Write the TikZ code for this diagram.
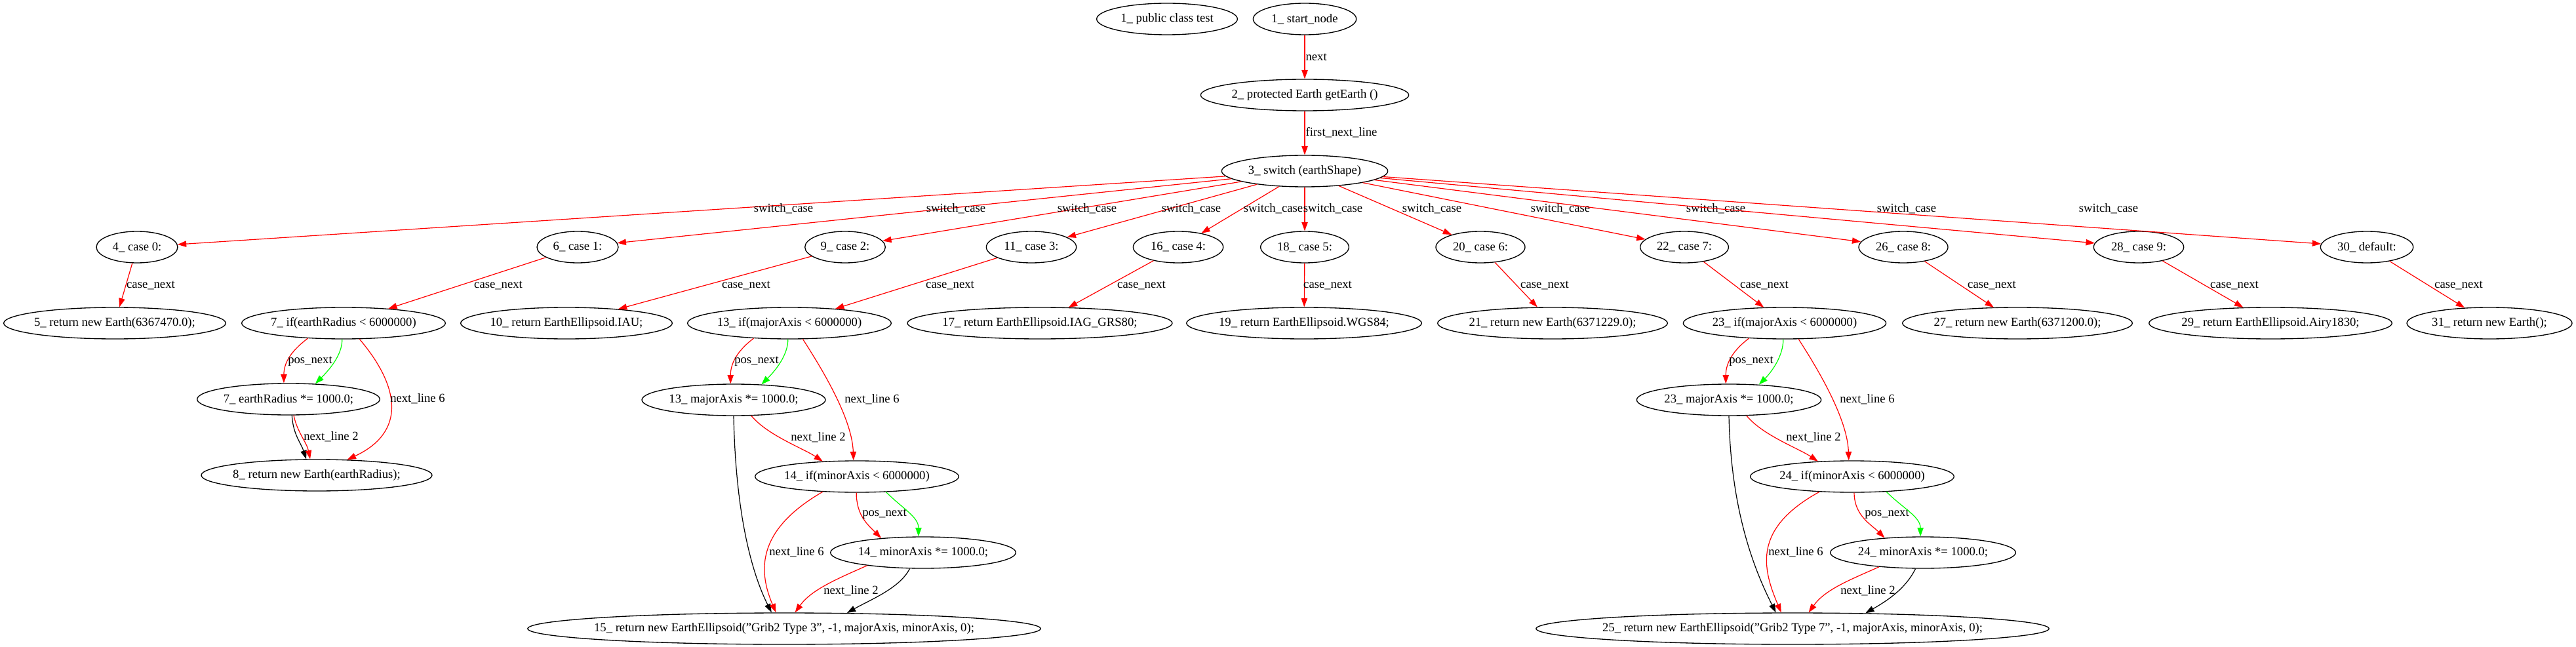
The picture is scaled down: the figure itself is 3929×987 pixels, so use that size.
\documentclass[tikz,border=0pt]{standalone}
\usepackage{fontspec}
\setmainfont{Liberation Serif}
\usetikzlibrary{shapes.geometric, arrows.meta}
\newcommand{\gvfont}{\fontsize{14}{16}\selectfont}
\tikzset{
  gnode/.style={draw, ellipse, line width=1pt, minimum width=#1, minimum height=36pt,
    inner xsep=-10pt, inner ysep=0pt, font=\gvfont},
  gedge/.style={line width=0.9pt, -{Triangle[length=10pt, width=7pt]}},
  rededge/.style={gedge, red},
  grnedge/.style={gedge, green},
  blkedge/.style={gedge, black},
  elabel/.style={font=\gvfont, text=black, inner sep=0pt},
}
\begin{document}
\begin{tikzpicture}[x=0.75pt, y=-0.75pt]
    \useasboundingbox (0,0) rectangle (3929,987);
    % Top nodes
    \node[gnode=161pt] (pub) at (1780,29) {1\_ public class test};
    \node[gnode=118pt] (start) at (1990,29) {1\_ start\_node};
    \node[gnode=238pt] (get) at (1990,145) {2\_ protected Earth getEarth ()};
    \node[gnode=190pt] (sw) at (1990,261) {3\_ switch (earthShape)};
    % Case nodes
    \node[gnode=93pt] (c4) at (209,377) {4\_ case 0:};
    \node[gnode=93pt] (c6) at (881,377) {6\_ case 1:};
    \node[gnode=92pt] (c9) at (1289,377) {9\_ case 2:};
    \node[gnode=103pt] (c11) at (1573,377) {11\_ case 3:};
    \node[gnode=103pt] (c16) at (1797,377) {16\_ case 4:};
    \node[gnode=101pt] (c18) at (1990,377) {18\_ case 5:};
    \node[gnode=102pt] (c20) at (2258,377) {20\_ case 6:};
    \node[gnode=101pt] (c22) at (2569,377) {22\_ case 7:};
    \node[gnode=102pt] (c26) at (2903,377) {26\_ case 8:};
    \node[gnode=103pt] (c28) at (3262,377) {28\_ case 9:};
    \node[gnode=106pt] (c30) at (3610,377) {30\_ default:};
    % Case bodies
    \node[gnode=254pt] (r5) at (175,493) {5\_ return new Earth(6367470.0);};
    \node[gnode=233pt] (i7) at (524,493) {7\_ if(earthRadius < 6000000)};
    \node[gnode=242pt] (r10) at (864,493) {10\_ return EarthEllipsoid.IAU;};
    \node[gnode=233pt] (i13) at (1204,493) {13\_ if(majorAxis < 6000000)};
    \node[gnode=303pt] (r17) at (1586,493) {17\_ return EarthEllipsoid.IAG\_GRS80;};
    \node[gnode=269pt] (r19) at (1989,493) {19\_ return EarthEllipsoid.WGS84;};
    \node[gnode=263pt] (r21) at (2368,493) {21\_ return new Earth(6371229.0);};
    \node[gnode=232pt] (i23) at (2722,493) {23\_ if(majorAxis < 6000000)};
    \node[gnode=263pt] (r27) at (3077,493) {27\_ return new Earth(6371200.0);};
    \node[gnode=278pt] (r29) at (3463,493) {29\_ return EarthEllipsoid.Airy1830;};
    \node[gnode=189pt] (r31) at (3797,493) {31\_ return new Earth();};
    % Inner statements
    \node[gnode=209pt] (m7) at (440,609) {7\_ earthRadius *= 1000.0;};
    \node[gnode=210pt] (m13) at (1119,610) {13\_ majorAxis *= 1000.0;};
    \node[gnode=211pt] (m23) at (2637,610) {23\_ majorAxis *= 1000.0;};
    \node[gnode=264pt] (r8) at (483,725) {8\_ return new Earth(earthRadius);};
    \node[gnode=233pt] (i14) at (1307,727) {14\_ if(minorAxis < 6000000)};
    \node[gnode=233pt] (i24) at (2825,727) {24\_ if(minorAxis < 6000000)};
    \node[gnode=212pt] (n14) at (1408,843) {14\_ minorAxis *= 1000.0;};
    \node[gnode=212pt] (n24) at (2933,843) {24\_ minorAxis *= 1000.0;};
    \node[gnode=575pt] (r15) at (1196,959) {15\_ return new EarthEllipsoid("Grib2 Type 3", -1, majorAxis, minorAxis, 0);};
    \node[gnode=575pt] (r25) at (2734,959) {25\_ return new EarthEllipsoid("Grib2 Type 7", -1, majorAxis, minorAxis, 0);};
    % Entry
    \draw[rededge] (start) -- (get) node[elabel, anchor=west] (lnext) at (1991,87) {next};
    \draw[rededge] (get) -- (sw) node[elabel, anchor=west] (lfirst) at (1991,202) {first\_next\_line};
    % Switch cases
    \draw[rededge] (sw) -- (c4) node[elabel] (s4) at (1195,318) {switch\_case};
    \draw[rededge] (sw) -- (c6) node[elabel] (s6) at (1458,318) {switch\_case};
    \draw[rededge] (sw) -- (c9) node[elabel] (s9) at (1658,318) {switch\_case};
    \draw[rededge] (sw) -- (c11) node[elabel] (s11) at (1817,318) {switch\_case};
    \draw[rededge] (sw) -- (c16) node[elabel] (s16) at (1942,318) {switch\_case};
    \draw[rededge] (sw) -- (c18) node[elabel] (s18) at (2033,318) {switch\_case};
    \draw[rededge] (sw) -- (c20) node[elabel] (s20) at (2184,318) {switch\_case};
    \draw[rededge] (sw) -- (c22) node[elabel] (s22) at (2380,318) {switch\_case};
    \draw[rededge] (sw) -- (c26) node[elabel] (s26) at (2617,318) {switch\_case};
    \draw[rededge] (sw) -- (c28) node[elabel] (s28) at (2908,318) {switch\_case};
    \draw[rededge] (sw) -- (c30) node[elabel] (s30) at (3216,318) {switch\_case};
    % Case next
    \draw[rededge] (c4) -- (r5) node[elabel] (k5) at (230,435) {case\_next};
    \draw[rededge] (c6) -- (i7) node[elabel] (k7) at (760,435) {case\_next};
    \draw[rededge] (c9) -- (r10) node[elabel] (k10) at (1138,435) {case\_next};
    \draw[rededge] (c11) -- (i13) node[elabel] (k13) at (1449,435) {case\_next};
    \draw[rededge] (c16) -- (r17) node[elabel] (k17) at (1741,435) {case\_next};
    \draw[rededge] (c18) -- (r19) node[elabel] (k19) at (2025,435) {case\_next};
    \draw[rededge] (c20) -- (r21) node[elabel] (k21) at (2356,435) {case\_next};
    \draw[rededge] (c22) -- (i23) node[elabel] (k23) at (2691,435) {case\_next};
    \draw[rededge] (c26) -- (r27) node[elabel] (k27) at (3038,435) {case\_next};
    \draw[rededge] (c28) -- (r29) node[elabel] (k29) at (3408,435) {case\_next};
    \draw[rededge] (c30) -- (r31) node[elabel] (k31) at (3750,435) {case\_next};
    % Case 1 branch
    \draw[rededge] (i7.203) .. controls +(-20,15) and +(0,-35) .. (m7.106) node[elabel] (p7) at (473,551) {pos\_next};
    \draw[grnedge] (i7.265) .. controls +(0,25) and +(20,-20) .. (m7.30);
    \draw[rededge] (i7.315) .. controls +(62,73) and +(90,-42) .. (r8.27) node[elabel] (q7) at (637,608) {next\_line 6};
    \draw[blkedge] (m7.282) .. controls +(2,30) and +(-8,-25) .. (r8.123);
    \draw[rededge] (m7.288) .. controls +(5,25) and +(-5,-25) .. (r8.112) node[elabel] (t7) at (505,666) {next\_line 2};
    % Case 3 branch
    \draw[rededge] (i13.203) .. controls +(-20,15) and +(0,-35) .. (m13.101) node[elabel] (p13) at (1154,551) {pos\_next};
    \draw[grnedge] (i13.265) .. controls +(0,25) and +(20,-20) .. (m13.29);
    \draw[rededge] (i13.310) .. controls +(31,48) and +(-2,-63) .. (i14.102) node[elabel] (q13) at (1330,609) {next\_line 6};
    \draw[rededge] (m13.318) .. controls +(25,30) and +(-30,-20) .. (i14.156) node[elabel] (t13) at (1248,667) {next\_line 2};
    \draw[blkedge] (m13.270) .. controls +(3,150) and +(-30,-60) .. (r15.128);
    \draw[rededge] (i14.204) .. controls +(-95,55) and +(-30,-70) .. (r15.117) node[elabel] (q14) at (1215,842) {next\_line 6};
    \draw[rededge] (i14.268) .. controls +(0,35) and +(-20,-20) .. (n14.161) node[elabel] (p14) at (1349,784) {pos\_next};
    \draw[grnedge] (i14.332) .. controls +(25,25) and +(0,-30) .. (n14.106);
    \draw[rededge] (n14.193) .. controls +(-45,20) and +(25,-35) .. (r15.56) node[elabel] (t14) at (1298,901) {next\_line 2};
    \draw[blkedge] (n14.230) .. controls +(-15,30) and +(35,-20) .. (r15.14);
    % Case 7 branch
    \draw[rededge] (i23.203) .. controls +(-20,15) and +(0,-35) .. (m23.101) node[elabel] (p23) at (2671,551) {pos\_next};
    \draw[grnedge] (i23.265) .. controls +(0,25) and +(20,-20) .. (m23.27);
    \draw[rededge] (i23.311) .. controls +(31,48) and +(-2,-63) .. (i24.102) node[elabel] (q23) at (2848,609) {next\_line 6};
    \draw[rededge] (m23.318) .. controls +(25,30) and +(-30,-20) .. (i24.156) node[elabel] (t23) at (2766,667) {next\_line 2};
    \draw[blkedge] (m23.270) .. controls +(3,150) and +(-30,-60) .. (r25.136);
    \draw[rededge] (i24.205) .. controls +(-100,55) and +(-30,-70) .. (r25.125) node[elabel] (q24) at (2739,842) {next\_line 6};
    \draw[rededge] (i24.277) .. controls +(0,35) and +(-20,-20) .. (n24.159) node[elabel] (p24) at (2878,784) {pos\_next};
    \draw[grnedge] (i24.336) .. controls +(25,25) and +(0,-30) .. (n24.99);
    \draw[rededge] (n24.198) .. controls +(-45,20) and +(25,-35) .. (r25.45) node[elabel] (t24) at (2849,901) {next\_line 2};
    \draw[blkedge] (n24.245) .. controls +(-15,30) and +(35,-20) .. (r25.12);
\end{tikzpicture}
\end{document}
